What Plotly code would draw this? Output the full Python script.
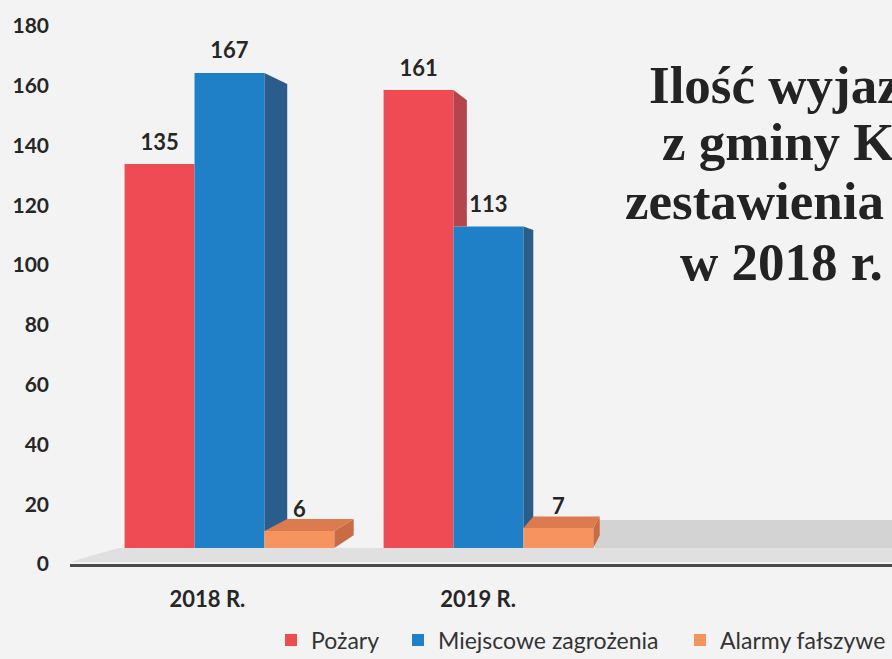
import plotly.graph_objects as go

# ---------------- data ----------------
categories = ["2018 R.", "2019 R."]
series_names = ["Pożary", "Miejscowe zagrożenia", "Alarmy fałszywe"]
pozary = [135, 161]
miejscowe = [167, 113]
alarmy = [6, 7]
y_ticks = [0, 20, 40, 60, 80, 100, 120, 140, 160, 180]
title_lines = ["Ilość wyjaz", "z gminy K", "zestawienia", "w 2018 r."]

# ---------------- style ----------------
W, H = 892, 659
ML, MR, MT, MB = 70, 0, 26, 95
PW, PH = W - ML - MR, H - MT - MB

front_cols = ["#ee4b55", "#1f7fc7", "#f7935e"]
side_cols = ["#b5444e", "#2a5d8b", "#c96b45"]
top_cols = ["#e2655e", "#2a6ea8", "#dc7b50"]

offsets = [-0.27, 0.0, 0.27]
bar_w = 0.27
values = [pozary, miejscowe, alarmy]

# perspective parameters (vanishing point in data units, depth scale)
VPX, VPY, S = 1.894, 89.3, 0.95


def px(x):
    return VPX + S * (x - VPX)


def py(v):
    return VPY + S * (v - VPY)


x_range = [-0.6158, 2.558]
y2_range = [-5.624, 183.48]

fig = go.Figure()

# anchor trace for the visible value axis
fig.add_trace(go.Scatter(x=[], y=[], yaxis="y", showlegend=False, hoverinfo="skip"))

# front faces
for j, name in enumerate(series_names):
    fig.add_trace(go.Bar(
        x=[i + offsets[j] for i in range(len(categories))],
        y=values[j], width=bar_w, name=name,
        marker=dict(color=front_cols[j], line=dict(width=0)),
        yaxis="y2", legend=["legend", "legend2", "legend3"][j],
        hoverinfo="skip",
    ))

# side faces (occluded by the next bar in the group)
for i in range(len(categories)):
    for j in range(len(series_names)):
        v = values[j][i]
        xr = i + offsets[j] + bar_w / 2
        low = 0
        if j + 1 < len(series_names):
            low = values[j + 1][i]
            if low >= v:
                continue
        if px(xr) <= xr:
            continue
        xs = [xr, xr, px(xr), px(xr), xr]
        ys = [low, v, py(v), py(low) if low == 0 else low, low]
        fig.add_trace(go.Scatter(
            x=xs, y=ys, mode="lines", fill="toself", fillcolor=side_cols[j],
            line=dict(width=0), yaxis="y2", showlegend=False, hoverinfo="skip"))

# top faces (visible for bars below eye level)
for i in range(len(categories)):
    for j in range(len(series_names)):
        v = values[j][i]
        if v >= VPY:
            continue
        xl = i + offsets[j] - bar_w / 2
        xr = i + offsets[j] + bar_w / 2
        xs = [xl, xr, px(xr), px(xl), xl]
        ys = [v, v, py(v), py(v), v]
        fig.add_trace(go.Scatter(
            x=xs, y=ys, mode="lines", fill="toself", fillcolor=top_cols[j],
            line=dict(width=0), yaxis="y2", showlegend=False, hoverinfo="skip"))

# value labels
for j in range(len(series_names)):
    fig.add_trace(go.Scatter(
        x=[i + offsets[j] for i in range(len(categories))],
        y=[v + 7.0 for v in values[j]],
        text=[str(v) for v in values[j]], mode="text",
        textfont=dict(family="Lato", size=22, color="#262626", weight="bold"),
        yaxis="y2", showlegend=False, hoverinfo="skip"))

# x tick positions: front plane of the perspective
tickpos = [VPX + 1.045 * (i - VPX) for i in range(len(categories))]

shapes = [
    # floor front strip
    dict(type="path", xref="x", yref="y2", layer="below",
         path="M -0.6158,-4.9 L 2.558,-4.9 L 2.558,0 L -0.43,0 Z",
         fillcolor="#e0e0e0", line=dict(width=0)),
    # floor back band at right
    dict(type="rect", xref="x", yref="y2", layer="below",
         x0=1.411, x1=2.558, y0=0, y1=9.84,
         fillcolor="#d3d3d3", line=dict(width=0)),
]

annotations = []
title_x = [647, 660, 623, 678]
title_y = [85, 142, 201, 262]
for t, xp, yp in zip(title_lines, title_x, title_y):
    annotations.append(dict(
        text=t, xref="paper", yref="paper",
        x=(xp - ML) / PW, y=(H - MB - yp) / PH,
        xanchor="left", yanchor="middle", showarrow=False,
        font=dict(family="Liberation Serif", size=53, color="#232323", weight="bold")))

legend_common = dict(orientation="h", xref="container", yref="container",
                     yanchor="middle", xanchor="left", bgcolor="rgba(0,0,0,0)",
                     font=dict(family="Lato", size=23, color="#333333"))
leg_y = 1 - 640 / H

fig.update_layout(
    width=W, height=H,
    margin=dict(l=ML, r=MR, t=MT, b=MB),
    paper_bgcolor="#f3f3f3", plot_bgcolor="#f3f3f3",
    barmode="overlay",
    xaxis=dict(range=x_range, tickvals=tickpos, ticktext=categories,
               showgrid=False, zeroline=False, showline=True,
               linecolor="#4a4a4a", linewidth=2.5, ticks="",
               ticklabelstandoff=14,
               tickfont=dict(family="Lato", size=22, color="#262626", weight="bold")),
    yaxis=dict(range=[0, 180], tickvals=y_ticks, showgrid=False, zeroline=False,
               showline=False, ticks="", ticklabelstandoff=20,
               tickfont=dict(family="Lato", size=21, color="#262626", weight="bold")),
    yaxis2=dict(range=y2_range, overlaying="y", visible=False),
    legend=dict(x=271 / W, y=leg_y, **legend_common),
    legend2=dict(x=398 / W, y=leg_y, **legend_common),
    legend3=dict(x=680 / W, y=leg_y, **legend_common),
    shapes=shapes, annotations=annotations,
)

fig.write_html("out.html", config={"displayModeBar": False},
               post_script="document.body.style.margin='0';")
